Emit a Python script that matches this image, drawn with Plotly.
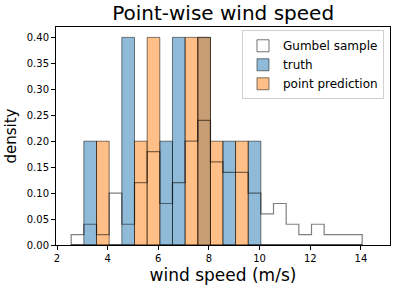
import plotly.graph_objects as go

# ---- data ----
bin_edges = [2.56, 3.06, 3.56, 4.06, 4.56, 5.06, 5.56, 6.06, 6.56, 7.06, 7.56, 8.06,
             8.55, 9.05, 9.55, 10.05, 10.55, 11.05, 11.55, 12.05, 12.55, 13.05, 13.55, 14.05]
gumbel_density = [0.02, 0.04, 0.02, 0.10, 0.04, 0.12, 0.18, 0.08, 0.12, 0.20, 0.24, 0.16,
                  0.14, 0.14, 0.10, 0.06, 0.08, 0.04, 0.02, 0.04, 0.02, 0.02, 0.02]
truth_density = [0.0, 0.2, 0.0, 0.0, 0.4, 0.0, 0.0, 0.2, 0.4, 0.0, 0.4, 0.0,
                 0.2, 0.0, 0.2, 0.0, 0.0, 0.0, 0.0, 0.0, 0.0, 0.0, 0.0]
pred_density = [0.0, 0.0, 0.2, 0.0, 0.0, 0.2, 0.4, 0.0, 0.0, 0.4, 0.4, 0.2,
                0.0, 0.2, 0.0, 0.0, 0.0, 0.0, 0.0, 0.0, 0.0, 0.0, 0.0]
x_ticks = [2, 4, 6, 8, 10, 12, 14]
y_ticks = [0.0, 0.05, 0.10, 0.15, 0.20, 0.25, 0.30, 0.35, 0.40]

centers = [(a + b) / 2 for a, b in zip(bin_edges[:-1], bin_edges[1:])]
widths = [b - a for a, b in zip(bin_edges[:-1], bin_edges[1:])]

FONT = "DejaVu Sans"
EDGE = "rgba(0,0,0,0.5)"

fig = go.Figure()

# legend proxy for the Gumbel step outline
fig.add_trace(go.Bar(x=[None], y=[None], name="Gumbel sample",
                     marker=dict(color="white", line=dict(color="rgba(0,0,0,0.55)", width=1)),
                     legendgroup="g"))

fig.add_trace(go.Bar(x=centers, y=truth_density, width=widths, name="truth",
                     marker=dict(color="rgba(31,119,180,0.5)", line=dict(color=EDGE, width=1))))
fig.add_trace(go.Bar(x=centers, y=pred_density, width=widths, name="point prediction",
                     marker=dict(color="rgba(255,127,14,0.5)", line=dict(color=EDGE, width=1))))

# Gumbel step histogram outline
sx = [bin_edges[0]] + bin_edges + [bin_edges[-1]]
sy = [0] + gumbel_density + [gumbel_density[-1], 0]
fig.add_trace(go.Scatter(x=sx, y=sy, mode="lines", line=dict(shape="hv", color=EDGE, width=1.2),
                         showlegend=False, legendgroup="g", hoverinfo="skip"))

axis_common = dict(showline=True, linecolor="black", linewidth=1, mirror=True,
                   ticks="outside", ticklen=4, tickcolor="black", tickwidth=1,
                   showgrid=False, zeroline=False, automargin=False,
                   tickfont=dict(family=FONT, size=10, color="black"))

fig.update_layout(
    width=397, height=291,
    margin=dict(l=56, r=7, t=27, b=46),
    paper_bgcolor="white", plot_bgcolor="white",
    barmode="overlay",
    font=dict(family=FONT, color="black"),
    title=dict(text="Point-wise wind speed", x=0.562, xanchor="center", y=0.93, yanchor="bottom",
               font=dict(family=FONT, size=20, color="black")),
    xaxis=dict(range=[1.96, 15.15], tickvals=x_ticks, ticktext=[str(t) for t in x_ticks],
               title=dict(text="wind speed (m/s)", font=dict(family=FONT, size=17), standoff=6),
               **axis_common),
    yaxis=dict(range=[0, 0.42], tickvals=y_ticks, tickformat=".2f",
               title=dict(text="density", font=dict(family=FONT, size=15), standoff=6),
               **axis_common),
    legend=dict(x=0.982, xanchor="right", y=0.985, yanchor="top",
                bgcolor="white", bordercolor="#d0d0d0", borderwidth=1,
                font=dict(family=FONT, size=12), tracegroupgap=0,
                traceorder="normal"),
)

fig.write_html("out.html", config={"displayModeBar": False},
               post_script="document.body.style.margin='0px';")
